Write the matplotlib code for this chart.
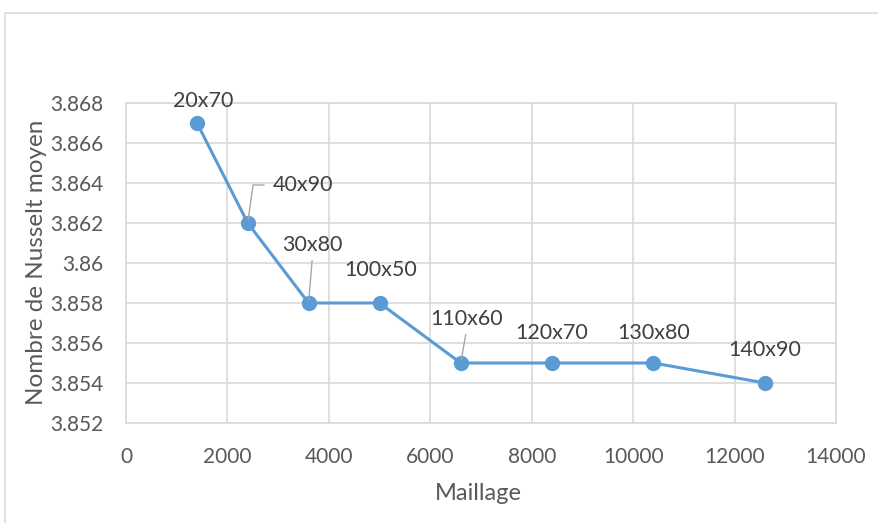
import matplotlib
matplotlib.use("Agg")
import matplotlib.pyplot as plt
from matplotlib.patches import Rectangle

maillage = [1400, 2400, 3600, 5000, 6600, 8400, 10400, 12600]
nusselt = [3.867, 3.862, 3.858, 3.858, 3.855, 3.855, 3.855, 3.854]
labels = ["20x70", "40x90", "30x80", "100x50", "110x60", "120x70", "130x80", "140x90"]
xticks = [0, 2000, 4000, 6000, 8000, 10000, 12000, 14000]
yticks = [3.852, 3.854, 3.856, 3.858, 3.86, 3.862, 3.864, 3.866, 3.868]
ytick_labels = ["3.852", "3.854", "3.856", "3.858", "3.86", "3.862", "3.864", "3.866", "3.868"]

plt.rcParams['font.family'] = ['Lato', 'DejaVu Sans']

W, H = 879, 523
fig = plt.figure(figsize=(W / 100, H / 100), dpi=100)
fig.patches.append(Rectangle((5 / W, -0.1), 1.2, 1.1 - 13 / H, transform=fig.transFigure,
                             fill=False, edgecolor='#d9d9d9', linewidth=1.2))

ax = fig.add_axes([126 / W, 1 - 423 / H, (836 - 126) / W, (423 - 103) / H])
grid_c = '#d9d9d9'
ax.set_xlim(0, 14000)
ax.set_ylim(3.852, 3.868)
ax.set_xticks(xticks)
ax.set_yticks(yticks)
ax.set_yticklabels(ytick_labels)
ax.grid(True, color=grid_c, linewidth=1.2)
ax.set_axisbelow(True)
for s in ax.spines.values():
    s.set_color(grid_c)
    s.set_linewidth(1.2)
ax.tick_params(length=0, labelsize=15, labelcolor='#595959')
ax.tick_params(axis='x', pad=17)
ax.tick_params(axis='y', pad=16)

ax.plot(maillage, nusselt, color='#5B9BD5', linewidth=2.2, marker='o', markersize=10,
        markerfacecolor='#5B9BD5', markeredgecolor='#5B9BD5', zorder=3)

# offsets in pixels (dx, dy) of label centre relative to point
offsets = [(6, 22), (55, 38), (4, 58), (1, 33), (6, 44), (0, 30), (0, 30), (0, 33)]
lead_col = '#a6a6a6'
for i, (x, y, lab) in enumerate(zip(maillage, nusselt, labels)):
    dx, dy = offsets[i]
    kw = dict(xy=(x, y), xytext=(dx, dy), textcoords='offset pixels',
              ha='center', va='center', fontsize=15.5, color='#404040')
    if i == 1:
        kw['arrowprops'] = dict(arrowstyle='-', color=lead_col, lw=1, shrinkA=4, shrinkB=2,
                                connectionstyle='angle,angleA=0,angleB=82,rad=0',
                                relpos=(0, 0.5))
    elif i in (2, 4):
        kw['arrowprops'] = dict(arrowstyle='-', color=lead_col, lw=1, shrinkA=2, shrinkB=2,
                                relpos=(0.5, 0))
    ax.annotate(lab, **kw)

fig.text(478 / W, 1 - 494 / H, 'Maillage', fontsize=17, color='#595959',
         ha='center', va='center')
fig.text(37 / W, 1 - 262 / H, 'Nombre de Nusselt moyen', fontsize=17.5, color='#595959',
         ha='center', va='center', rotation=90)

fig.savefig('out.png', dpi=100)
